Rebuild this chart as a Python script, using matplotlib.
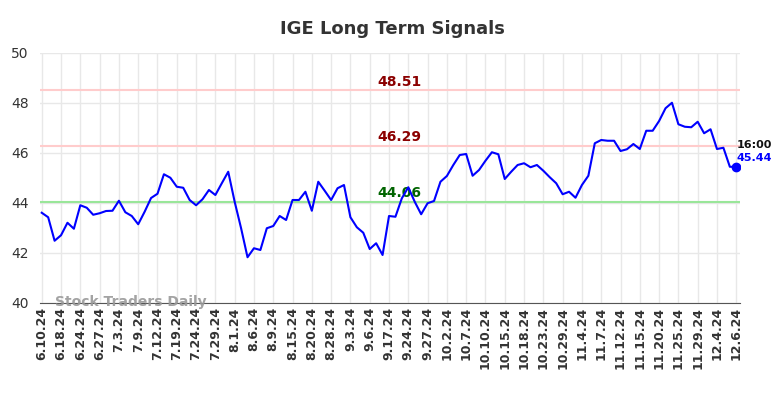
import numpy as np
import matplotlib
matplotlib.use("Agg")
import matplotlib.pyplot as plt

TITLE = "IGE Long Term Signals"

TICK_LABELS = [
    "6.10.24", "6.18.24", "6.24.24", "6.27.24", "7.3.24", "7.9.24", "7.12.24",
    "7.19.24", "7.24.24", "7.29.24", "8.1.24", "8.6.24", "8.9.24", "8.15.24",
    "8.20.24", "8.28.24", "9.3.24", "9.6.24", "9.17.24", "9.24.24", "9.27.24",
    "10.2.24", "10.7.24", "10.10.24", "10.15.24", "10.18.24", "10.23.24",
    "10.29.24", "11.4.24", "11.7.24", "11.12.24", "11.15.24", "11.20.24",
    "11.25.24", "11.29.24", "12.4.24", "12.6.24",
]

PRICES = [
    43.61, 43.43, 42.49, 42.71, 43.21, 42.97, 43.91, 43.81, 43.53, 43.59,
    43.68, 43.69, 44.09, 43.63, 43.48, 43.15, 43.65, 44.20, 44.37, 45.15,
    45.01, 44.65, 44.61, 44.12, 43.91, 44.15, 44.52, 44.32, 44.79, 45.25,
    44.05, 42.99, 41.83, 42.19, 42.12, 42.99, 43.08, 43.48, 43.32, 44.12,
    44.12, 44.45, 43.69, 44.85, 44.49, 44.12, 44.59, 44.72, 43.43, 43.03,
    42.81, 42.16, 42.39, 41.92, 43.48, 43.45, 44.19, 44.63, 44.05, 43.55,
    43.99, 44.08, 44.85, 45.08, 45.52, 45.92, 45.96, 45.09, 45.32, 45.69,
    46.03, 45.95, 44.96, 45.25, 45.52, 45.59, 45.43, 45.52, 45.29, 45.03,
    44.79, 44.35, 44.45, 44.21, 44.72, 45.09, 46.39, 46.52, 46.49, 46.49,
    46.08, 46.15, 46.36, 46.16, 46.89, 46.89, 47.28, 47.79, 48.01, 47.15,
    47.05, 47.03, 47.25, 46.79, 46.95, 46.16, 46.21, 45.45, 45.44,
]

RESIST = [48.51, 46.29]
SUPPORT = [44.06]
LAST_TIME = "16:00"
LAST_PRICE = 45.44

x = np.arange(len(PRICES))
tick_pos = x[::3]

fig = plt.figure(figsize=(7.84, 3.98), dpi=100)
ax = fig.add_axes([40 / 784, 1 - 303 / 398, 700 / 784, 250 / 398])

ax.set_xlim(-0.27, len(PRICES) - 1 + 0.58)
ax.set_ylim(40, 50)
ax.set_yticks(np.arange(40, 51, 2))
ax.set_xticks(tick_pos)
ax.set_xticklabels(TICK_LABELS, rotation=90, fontsize=9, fontweight="bold",
                   color="#333333")
ax.tick_params(axis="y", labelsize=10, colors="#333333", length=0, pad=8)
ax.tick_params(axis="x", length=0, pad=3)
ax.grid(True, color="#e8e8e8", lw=1)
ax.set_axisbelow(True)
for side in ("top", "right", "left"):
    ax.spines[side].set_visible(False)
ax.spines["bottom"].set_color("#555555")

label_x = 55.6
for lvl in RESIST:
    ax.axhline(lvl, color="#ffcccc", lw=1.5, zorder=1)
    ax.text(label_x, lvl + 0.06, f"{lvl:.2f}", color="#8b0000", fontsize=10,
            fontweight="bold", ha="center", va="bottom")
for lvl in SUPPORT:
    ax.axhline(lvl, color="#99e699", lw=1.5, zorder=1)
    ax.text(label_x, lvl + 0.06, f"{lvl:.2f}", color="#006400", fontsize=10,
            fontweight="bold", ha="center", va="bottom")

ax.plot(x, PRICES, color="#0000ff", lw=1.5, zorder=3)
ax.plot(x[-1], PRICES[-1], "o", color="#0000ff", ms=6, zorder=4)
ax.text(x[-1], LAST_PRICE + 0.9, LAST_TIME, color="#111111", fontsize=8,
        fontweight="bold", ha="left", va="center")
ax.text(x[-1], LAST_PRICE + 0.35, f"{LAST_PRICE:.2f}", color="#0000ff",
        fontsize=8, fontweight="bold", ha="left", va="center")

ax.text(2, 40.02, "Stock Traders Daily", color="#999999", fontsize=10,
        fontweight="bold", ha="left", va="center", alpha=0.9)

fig.suptitle(TITLE, x=0.5, y=0.95, fontsize=13, fontweight="bold",
             color="#333333")

fig.savefig("out.png", dpi=100)
